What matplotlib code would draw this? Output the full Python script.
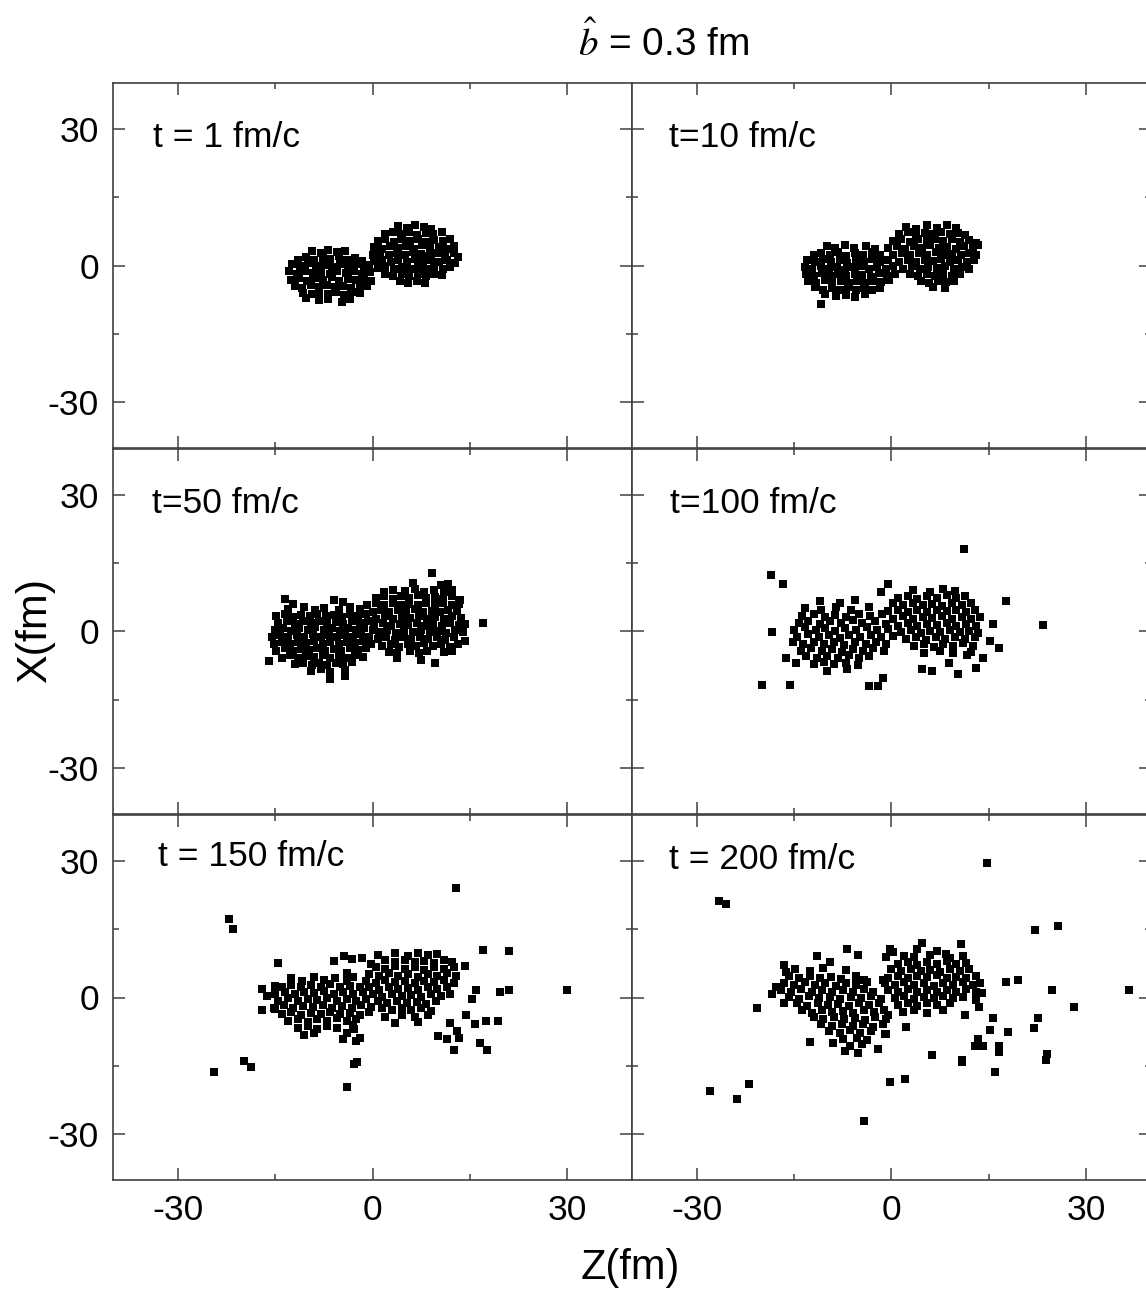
import numpy as np
import matplotlib
matplotlib.use("Agg")
import matplotlib.pyplot as plt
from matplotlib.ticker import MultipleLocator

plt.rcParams['font.family'] = ['Liberation Sans', 'DejaVu Sans']
plt.rcParams['mathtext.fontset'] = 'stix'
plt.rcParams['axes.unicode_minus'] = False

# (Z, X) positions of the nucleons in fm
pts_t1 = [
    (-9.3,3.2),(-8.0,2.7),(-6.8,3.4),(-5.5,2.9),(-4.2,3.1),
    (-11.5,1.3),(-10.3,1.8),(-9.0,1.1),(-7.7,1.7),(-6.5,1.4),(-5.2,2.0),(-4.0,1.2),(-2.7,1.6),(-1.6,1.0),
    (-12.4,0.3),(-11.2,-0.2),(-10.0,0.5),(-8.7,-0.1),(-7.5,0.2),(-6.2,-0.4),(-5.0,0.4),(-3.8,-0.2),(-2.5,0.3),(-1.3,-0.3),(-0.5,0.2),
    (-12.8,-1.3),(-11.6,-1.8),(-10.4,-1.2),(-9.1,-1.7),(-7.9,-1.4),(-6.6,-1.9),(-5.4,-1.1),(-4.1,-1.6),(-2.9,-1.3),(-1.6,-1.9),(-0.4,-1.5),
    (-12.6,-3.1),(-11.3,-2.7),(-10.1,-3.3),(-8.8,-2.8),(-7.6,-3.2),(-6.3,-2.6),(-5.1,-3.4),(-3.8,-2.9),(-2.6,-3.1),(-1.3,-2.7),(-0.3,-3.3),
    (-12.0,-4.4),(-10.8,-4.9),(-9.5,-4.3),(-8.3,-4.7),(-7.0,-4.2),(-5.8,-4.8),(-4.5,-4.4),(-3.3,-4.9),(-2.0,-4.3),(-0.9,-4.6),
    (-10.7,-6.0),(-9.4,-6.3),(-8.2,-5.8),(-6.9,-6.2),(-5.7,-5.9),(-4.4,-6.4),(-3.1,-5.8),(-2.0,-6.1),
    (-10.3,-7.1),(-8.3,-7.6),(-6.8,-7.3),(-4.7,-8.0),(-3.5,-7.4),
    (4.0,8.7),(5.3,8.3),(6.6,8.9),(7.9,8.4),(9.0,8.1),
    (1.9,6.8),(3.1,7.3),(4.4,6.9),(5.7,7.4),(6.9,6.7),(8.2,7.2),(9.4,6.9),(10.7,7.3),
    (0.8,5.3),(2.0,5.8),(3.3,5.2),(4.5,5.7),(5.8,5.4),(7.0,5.9),(8.3,5.1),(9.5,5.6),(10.8,5.3),(11.9,5.8),
    (0.2,4.1),(1.4,3.7),(2.7,4.3),(3.9,3.8),(5.2,4.2),(6.4,3.6),(7.7,4.4),(8.9,3.9),(10.2,4.1),(11.4,3.7),(12.6,4.2),
    (0.0,2.4),(1.2,2.8),(2.5,2.2),(3.7,2.7),(5.0,2.3),(6.2,2.9),(7.5,2.5),(8.7,2.1),(10.0,2.7),(11.2,2.3),(12.5,2.8),(13.2,1.9),
    (0.3,0.9),(1.5,1.3),(2.8,0.7),(4.0,1.2),(5.3,0.8),(6.5,1.4),(7.8,0.9),(9.0,1.3),(10.3,0.7),(11.5,1.2),(12.7,0.6),
    (0.8,-0.6),(2.0,-0.2),(3.3,-0.8),(4.5,-0.3),(5.8,-0.7),(7.0,-0.2),(8.3,-0.8),(9.5,-0.4),(10.8,-0.7),(11.9,-0.3),
    (2.0,-1.9),(3.2,-2.3),(4.5,-1.8),(5.7,-2.2),(7.0,-1.9),(8.2,-2.4),(9.5,-1.8),(10.7,-2.1),
    (4.2,-3.4),(5.5,-3.9),(6.8,-3.5),(8.1,-3.8),
]

pts_t10 = [
    (-10.0,4.3),(-8.7,3.8),(-7.2,4.6),(-5.8,3.9),(-4.0,4.2),(-2.6,3.7),
    (-12.0,2.2),(-10.8,2.8),(-9.5,2.3),(-8.2,2.9),(-7.0,2.1),(-5.7,2.7),(-4.4,2.4),(-3.0,2.9),(-1.8,2.2),
    (-13.0,1.2),(-11.8,0.7),(-10.5,1.4),(-9.3,0.8),(-8.0,1.3),(-6.8,0.6),(-5.5,1.2),(-4.3,0.8),(-3.0,1.4),(-1.8,0.7),(-0.6,1.1),
    (-13.4,-0.3),(-12.2,-0.8),(-10.9,-0.2),(-9.7,-0.7),(-8.4,-0.3),(-7.2,-0.9),(-5.9,-0.4),(-4.7,-0.1),(-3.4,-0.8),(-2.2,-0.3),(-0.9,-0.7),(0.2,-0.2),
    (-13.2,-1.8),(-12.0,-2.3),(-10.7,-1.7),(-9.5,-2.2),(-8.2,-1.9),(-7.0,-2.4),(-5.7,-1.8),(-4.5,-2.1),(-3.2,-2.5),(-2.0,-1.7),(-0.7,-2.2),(0.5,-1.9),
    (-12.8,-3.3),(-11.6,-3.8),(-10.3,-3.2),(-9.1,-3.7),(-7.8,-3.4),(-6.6,-3.9),(-5.3,-3.3),(-4.1,-3.8),(-2.8,-3.4),(-1.6,-3.7),(-0.4,-3.2),
    (-11.8,-4.8),(-10.5,-5.3),(-9.2,-4.9),(-8.0,-5.4),(-6.7,-4.8),(-5.5,-5.3),(-4.2,-5.0),(-3.0,-5.4),(-1.8,-4.9),
    (-10.2,-6.3),(-8.6,-6.7),(-7.0,-6.4),(-5.6,-6.8),(-4.1,-6.2),
    (-10.8,-8.4),
    (2.3,8.5),(3.8,8.1),(5.4,8.8),(7.0,8.3),(8.6,8.9),(10.0,8.2),
    (1.2,6.8),(2.5,7.3),(3.8,6.7),(5.1,7.2),(6.4,6.9),(7.7,7.4),(9.0,6.8),(10.3,7.2),(11.4,6.7),
    (0.2,5.3),(1.5,5.8),(2.8,5.2),(4.1,5.7),(5.4,5.4),(6.7,5.9),(8.0,5.3),(9.3,5.7),(10.6,5.2),(11.9,5.6),(13.0,5.0),
    (-0.5,3.8),(0.8,4.3),(2.1,3.7),(3.4,4.2),(4.7,3.9),(6.0,4.4),(7.3,3.8),(8.6,4.1),(9.9,3.7),(11.2,4.3),(12.5,3.9),(13.4,4.6),
    (0.3,2.3),(1.6,2.8),(2.9,2.2),(4.2,2.7),(5.5,2.4),(6.8,2.9),(8.1,2.3),(9.4,2.6),(10.7,2.2),(12.0,2.8),(13.0,2.4),
    (1.2,0.8),(2.5,1.3),(3.8,0.7),(5.1,1.2),(6.4,0.9),(7.7,1.4),(9.0,0.8),(10.3,1.2),(11.6,0.7),(12.7,1.1),
    (1.8,-0.7),(3.1,-0.2),(4.4,-0.8),(5.7,-0.3),(7.0,-0.6),(8.3,-0.2),(9.6,-0.8),(10.9,-0.4),(12.0,-0.7),
    (2.8,-1.9),(4.1,-2.3),(5.4,-1.8),(6.7,-2.2),(8.0,-1.9),(9.3,-2.4),(10.6,-1.8),
    (4.5,-3.3),(5.8,-3.8),(7.1,-3.4),(8.4,-3.7),(9.7,-3.3),
    (6.4,-4.7),(8.3,-4.9),
]

pts_t50 = [
    (-13.5,7.2),(-12.3,6.1),(-6.0,6.8),(-4.6,6.5),
    (-13.0,4.9),(-10.5,5.3),(-8.9,4.7),(-7.4,5.2),(-5.2,4.8),(-3.5,5.4),(-2.0,4.9),
    (-14.8,3.3),(-13.5,3.8),(-12.2,3.2),(-11.0,3.7),(-9.7,3.4),(-8.5,3.9),(-7.2,3.3),(-6.0,3.6),(-4.7,3.2),(-3.5,3.8),(-2.2,3.4),(-1.0,3.9),
    (-14.5,1.8),(-13.2,2.3),(-12.0,1.7),(-10.7,2.2),(-9.5,1.9),(-8.2,2.4),(-7.0,1.8),(-5.7,2.1),(-4.5,1.7),(-3.2,2.3),(-2.0,1.9),(-0.7,2.4),
    (-15.0,0.4),(-13.8,0.8),(-12.5,0.2),(-11.3,0.7),(-10.0,0.3),(-8.8,0.9),(-7.5,0.4),(-6.3,0.7),(-5.0,0.2),(-3.8,0.8),(-2.5,0.3),(-1.3,0.7),(0.0,0.4),
    (-15.5,-1.2),(-14.2,-0.7),(-13.0,-1.3),(-11.7,-0.8),(-10.5,-1.1),(-9.2,-0.6),(-8.0,-1.2),(-6.7,-0.8),(-5.5,-1.3),(-4.2,-0.7),(-3.0,-1.1),(-1.7,-0.6),(-0.5,-1.2),
    (-15.2,-2.7),(-14.0,-2.2),(-12.7,-2.8),(-11.5,-2.3),(-10.2,-2.6),(-9.0,-2.1),(-7.7,-2.7),(-6.5,-2.3),(-5.2,-2.8),(-4.0,-2.2),(-2.7,-2.6),(-1.5,-2.1),(-0.2,-2.7),
    (-14.8,-4.2),(-13.5,-3.7),(-12.3,-4.3),(-11.0,-3.8),(-9.8,-4.1),(-8.5,-3.6),(-7.3,-4.2),(-6.0,-3.8),(-4.8,-4.3),(-3.5,-3.7),(-2.3,-4.1),(-1.0,-3.6),
    (-14.0,-5.7),(-12.7,-5.2),(-11.5,-5.8),(-10.2,-5.3),(-9.0,-5.6),(-7.7,-5.1),(-6.5,-5.7),(-5.2,-5.3),(-4.0,-5.8),(-2.7,-5.2),(-1.5,-5.6),
    (-16.0,-6.5),(-12.0,-7.2),(-10.7,-6.8),(-9.4,-7.3),(-8.2,-6.9),(-7.0,-7.4),(-5.7,-6.8),(-4.5,-7.1),(-3.2,-6.7),
    (-9.5,-8.6),(-8.0,-8.2),(-6.5,-8.9),(-4.2,-8.4),
    (-6.5,-10.4),(-4.2,-9.7),
    (9.2,12.9),
    (6.3,10.6),(10.5,10.2),(11.7,10.4),
    (1.7,8.7),(3.2,9.2),(5.0,8.8),(6.6,9.3),(8.0,8.7),(9.5,9.1),(11.0,8.6),(12.2,9.0),
    (0.5,7.3),(1.8,7.8),(3.1,7.2),(4.4,7.7),(5.7,7.4),(7.0,7.9),(8.3,7.3),(9.6,7.6),(10.9,7.2),(12.2,7.7),(13.5,6.8),
    (-0.8,5.7),(0.5,6.2),(1.8,5.8),(3.1,6.3),(4.4,5.7),(5.7,6.1),(7.0,5.8),(8.3,6.3),(9.6,5.7),(10.9,6.2),(12.2,5.8),(13.3,6.1),
    (0.0,4.3),(1.3,4.8),(2.6,4.2),(3.9,4.7),(5.2,4.4),(6.5,4.9),(7.8,4.3),(9.1,4.6),(10.4,4.2),(11.7,4.8),(13.0,4.4),
    (0.6,2.8),(1.9,3.3),(3.2,2.7),(4.5,3.2),(5.8,2.9),(7.1,3.4),(8.4,2.8),(9.7,3.1),(11.0,2.7),(12.3,3.3),(13.6,2.9),
    (0.3,1.3),(1.6,1.8),(2.9,1.2),(4.2,1.7),(5.5,1.4),(6.8,1.9),(8.1,1.3),(9.4,1.6),(10.7,1.2),(12.0,1.8),(13.3,1.4),(14.3,1.7),
    (1.0,-0.2),(2.3,0.3),(3.6,-0.3),(4.9,0.2),(6.2,-0.1),(7.5,0.4),(8.8,-0.2),(10.1,0.1),(11.4,-0.3),(12.7,0.3),(13.9,-0.1),
    (0.8,-1.7),(2.1,-1.2),(3.4,-1.8),(4.7,-1.3),(6.0,-1.6),(7.3,-1.1),(8.6,-1.7),(9.9,-1.3),(11.2,-1.8),(12.5,-1.2),(14.3,-2.0),
    (1.5,-3.2),(2.8,-2.7),(4.1,-3.3),(5.4,-2.8),(6.7,-3.1),(8.0,-2.6),(9.3,-3.2),(10.6,-2.8),(11.9,-3.3),(13.2,-2.7),
    (2.5,-4.4),(3.8,-4.8),(5.8,-4.3),(7.1,-4.7),(8.4,-4.2),(11.0,-4.6),(12.3,-4.3),
    (3.8,-5.7),(7.5,-6.2),(9.7,-6.8),
    (17.1,1.8),
]

pts_t100 = [
    (-5.7,7.0),(-11.0,6.6),(-8.0,6.2),
    (-13.3,5.2),(-10.8,4.7),(-8.5,5.4),(-6.2,4.8),(-3.5,5.3),
    (-13.8,3.3),(-12.0,3.9),(-10.2,3.2),(-8.7,3.7),(-7.0,3.1),(-5.0,3.8),(-3.3,3.4),(-1.5,3.9),
    (-14.2,1.8),(-12.8,2.4),(-11.0,1.7),(-9.5,2.3),(-7.8,1.9),(-6.0,2.5),(-4.5,1.8),(-2.5,2.2),(-0.8,1.7),
    (-15.0,0.3),(-13.3,0.9),(-11.7,0.4),(-10.2,0.8),(-8.7,0.2),(-7.2,0.7),(-5.5,0.3),(-3.8,0.9),(-2.2,0.4),(-0.5,0.6),
    (-14.5,-1.2),(-12.8,-0.6),(-11.2,-1.3),(-9.6,-0.8),(-8.0,-1.4),(-6.5,-0.7),(-4.8,-1.2),(-3.2,-0.8),(-1.6,-1.3),(0.2,-0.9),
    (-15.2,-2.3),(-13.6,-2.8),(-12.0,-2.2),(-10.4,-2.7),(-8.9,-2.4),(-7.3,-2.9),(-5.6,-2.3),(-4.0,-2.7),(-2.4,-2.2),(-0.8,-2.8),
    (-14.0,-4.2),(-12.4,-3.7),(-10.7,-4.3),(-9.2,-3.8),(-7.6,-4.4),(-6.0,-3.9),(-4.4,-4.2),(-2.8,-3.7),(-1.2,-4.3),
    (-13.2,-5.4),(-11.5,-5.9),(-9.9,-5.3),(-8.3,-5.8),(-6.6,-5.2),(-5.0,-5.7),(-3.4,-5.3),
    (-12.0,-7.1),(-10.4,-6.6),(-8.8,-7.2),(-7.0,-6.8),(-5.2,-7.3),
    (-10.0,-8.6),(-6.8,-8.3),
    (3.3,9.2),(6.0,8.7),(8.0,9.4),(9.8,8.9),
    (1.0,7.3),(2.5,7.8),(4.0,7.2),(5.5,7.7),(7.0,7.4),(8.5,7.9),(10.0,7.3),(11.3,7.7),
    (0.2,6.2),(1.8,5.7),(3.3,6.3),(4.8,5.8),(6.3,6.1),(7.8,5.6),(9.3,6.2),(10.8,5.8),(12.2,6.3),
    (-0.5,4.4),(1.0,4.8),(2.5,4.3),(4.0,4.7),(5.5,4.2),(7.0,4.8),(8.5,4.4),(10.0,4.7),(11.5,4.3),(12.9,4.8),
    (0.3,2.8),(1.8,3.3),(3.3,2.7),(4.8,3.2),(6.3,2.9),(7.8,3.4),(9.3,2.8),(10.8,3.1),(12.3,2.7),(13.6,3.2),
    (1.0,1.3),(2.5,1.8),(4.0,1.2),(5.5,1.7),(7.0,1.4),(8.5,1.9),(10.0,1.3),(11.5,1.6),(13.0,1.2),
    (1.5,-0.2),(3.0,0.3),(4.5,-0.3),(6.0,0.2),(7.5,-0.1),(9.0,0.4),(10.5,-0.2),(12.0,0.1),(13.3,-0.3),
    (2.3,-1.7),(3.8,-1.2),(5.3,-1.8),(6.8,-1.3),(8.3,-1.6),(9.8,-1.1),(11.3,-1.7),(12.8,-1.3),
    (3.5,-3.2),(5.0,-2.7),(6.5,-3.3),(8.0,-2.8),(9.5,-3.1),(11.0,-2.6),(12.5,-3.2),
    (5.0,-4.7),(7.5,-4.3),(9.5,-4.8),(12.3,-4.4),
    (-18.5,12.4),(-16.7,10.5),(11.1,18.1),(23.4,1.5),(-20.0,-11.7),(-15.6,-11.7),(-18.4,-0.1),
    (17.6,6.7),(16.6,-3.6),(15.6,1.7),(-16.2,-5.7),(-14.7,-6.8),(-3.4,-11.9),(-2.1,-11.9),
    (-1.3,-10.1),(-0.6,10.5),(-1.6,8.7),(4.7,-8.2),(6.3,-8.6),(10.2,-9.3),(13.1,-8.0),
    (14.1,-5.7),(11.7,-5.1),(8.9,-6.9),(15.2,-2.0),
]

pts_t150 = [
    (-12.5,4.2),(-10.8,3.7),(-9.0,4.4),(-7.5,3.8),(-5.8,4.3),(-4.0,3.6),
    (-14.0,2.3),(-12.5,2.8),(-11.0,2.2),(-9.5,2.7),(-8.0,2.4),(-6.5,2.9),(-5.0,2.3),(-3.5,2.6),(-2.0,2.2),
    (-15.0,0.8),(-13.5,1.3),(-12.0,0.7),(-10.5,1.2),(-9.0,0.9),(-7.5,1.4),(-6.0,0.8),(-4.5,1.1),(-3.0,0.7),(-1.5,1.2),
    (-14.5,-0.7),(-13.0,-0.2),(-11.5,-0.8),(-10.0,-0.3),(-8.5,-0.6),(-7.0,-0.1),(-5.5,-0.7),(-4.0,-0.3),(-2.5,-0.8),(-1.0,-0.4),
    (-15.2,-2.2),(-13.7,-1.7),(-12.2,-2.3),(-10.7,-1.8),(-9.2,-2.1),(-7.7,-1.6),(-6.2,-2.2),(-4.7,-1.8),(-3.2,-2.3),(-1.7,-1.7),(-0.2,-2.1),
    (-14.0,-3.7),(-12.5,-3.2),(-11.0,-3.8),(-9.5,-3.3),(-8.0,-3.6),(-6.5,-3.1),(-5.0,-3.7),(-3.5,-3.3),(-2.0,-3.8),(-0.5,-3.2),
    (-13.0,-5.2),(-11.5,-4.7),(-10.0,-5.3),(-8.5,-4.8),(-7.0,-5.1),(-5.5,-4.6),(-4.0,-5.2),(-2.5,-4.8),
    (-11.5,-6.7),(-10.0,-6.2),(-8.5,-6.8),(-7.0,-6.3),(-5.5,-6.6),(-3.0,-6.1),
    (-10.5,-8.2),(-9.0,-7.7),(-3.9,-7.7),(-2.9,-7.0),
    (-4.6,-9.2),(-2.6,-9.6),(-2.0,-8.8),
    (-6.0,7.9),(-4.4,9.1),(-3.2,8.4),(-1.6,8.6),(0.9,9.4),(-0.3,7.4),(-4.0,5.3),(-3.0,4.5),
    (3.5,9.7),(5.5,9.2),(7.0,9.8),(8.5,9.3),(10.0,9.6),
    (2.0,8.2),(3.5,7.7),(5.0,8.3),(6.5,7.8),(8.0,8.1),(9.5,7.6),(11.0,8.2),(12.3,7.8),
    (0.5,6.7),(2.0,6.2),(3.5,6.8),(5.0,6.3),(6.5,6.6),(8.0,6.1),(9.5,6.7),(11.0,6.3),(12.5,6.6),
    (-0.5,5.2),(1.0,4.7),(2.5,5.3),(4.0,4.8),(5.5,5.1),(7.0,4.6),(8.5,5.2),(10.0,4.8),(11.5,5.3),(12.8,4.7),
    (-1.0,3.7),(0.5,3.2),(2.0,3.8),(3.5,3.3),(5.0,3.6),(6.5,3.1),(8.0,3.7),(9.5,3.3),(11.0,3.8),(12.5,3.2),
    (-0.5,2.2),(1.0,1.7),(2.5,2.3),(4.0,1.8),(5.5,2.1),(7.0,1.6),(8.5,2.2),(10.0,1.8),(11.5,2.3),
    (0.0,0.7),(1.5,0.2),(3.0,0.8),(4.5,0.3),(6.0,0.6),(7.5,0.1),(9.0,0.7),(10.5,0.3),(12.0,0.8),
    (0.8,-0.8),(2.3,-1.3),(3.8,-0.7),(5.3,-1.2),(6.8,-0.9),(8.3,-1.4),(9.8,-0.8),
    (1.5,-2.3),(3.0,-2.8),(4.5,-2.2),(6.0,-2.7),(7.5,-2.4),(9.0,-2.9),
    (2.0,-4.2),(4.5,-3.8),(6.5,-4.3),(8.5,-3.9),
    (3.5,-5.6),(7.0,-5.3),
    (12.9,24.0),(-22.1,17.3),(-21.5,15.0),(17.0,10.5),(21.1,10.1),(30.0,1.6),(-24.4,-16.4),
    (-19.8,-14.0),(-18.8,-15.3),(-4.0,-19.7),(-2.8,-14.5),(-2.4,-14.2),(-14.5,7.6),(-17.1,-2.7),
    (-17.0,1.8),(-15.1,-2.6),(-15.1,2.6),(-16.2,0.4),(14.3,6.9),(16.0,1.7),(15.3,-0.4),
    (19.7,1.3),(21.0,1.7),(14.4,-3.9),(15.8,-5.7),(17.5,-5.2),(19.3,-5.2),(11.9,-5.5),
    (11.5,-9.1),(13.1,-7.4),(13.4,-8.8),(10.1,-8.5),(12.5,-11.4),(16.6,-10.0),(17.7,-11.4),
]

pts_t200 = [
    (-14.8,6.2),(-12.5,5.8),(-10.5,6.4),(-7.0,6.0),
    (-15.8,4.7),(-14.2,4.2),(-12.6,4.8),(-11.0,4.3),(-9.4,4.6),(-7.8,4.1),(-5.5,4.7),
    (-16.5,3.2),(-15.0,2.7),(-13.4,3.3),(-11.8,2.8),(-10.2,3.1),(-8.6,2.6),(-7.0,3.2),(-5.4,2.8),(-3.8,3.3),
    (-17.0,1.7),(-15.5,1.2),(-13.9,1.8),(-12.3,1.3),(-10.7,1.6),(-9.1,1.1),(-7.5,1.7),(-5.9,1.3),(-4.3,1.8),(-2.8,1.2),
    (-15.8,0.2),(-14.3,-0.3),(-12.7,0.3),(-11.1,-0.2),(-9.5,0.1),(-7.9,-0.4),(-6.3,0.2),(-4.7,-0.2),(-3.1,0.3),(-1.6,-0.3),
    (-14.5,-1.3),(-13.0,-1.8),(-11.4,-1.2),(-9.8,-1.7),(-8.2,-1.4),(-6.6,-1.9),(-5.0,-1.3),(-3.4,-1.7),(-1.9,-1.2),
    (-13.8,-2.8),(-12.3,-3.3),(-10.7,-2.7),(-9.1,-3.2),(-7.5,-2.9),(-5.9,-3.4),(-4.3,-2.8),(-2.7,-3.2),(-1.2,-2.7),
    (-12.0,-4.3),(-10.5,-4.8),(-8.9,-4.2),(-7.3,-4.7),(-5.7,-4.4),(-4.1,-4.9),(-2.5,-4.3),(-0.8,-4.7),
    (-10.8,-5.8),(-9.2,-6.3),(-7.6,-5.7),(-6.0,-6.2),(-4.4,-5.9),(-2.8,-6.4),(-1.3,-5.8),
    (-9.7,-7.3),(-8.0,-7.8),(-6.4,-7.2),(-4.8,-7.7),(-3.2,-7.4),(-1.0,-7.9),
    (-9.0,-10.0),(-7.5,-9.2),(-5.3,-8.8),(-3.8,-9.3),
    (-6.4,-10.6),(-4.5,-10.3),
    (-7.2,-11.8),(-5.2,-12.2),
    (4.0,10.7),(7.0,10.3),
    (2.0,9.2),(3.5,8.8),(6.0,9.3),(9.0,8.7),(11.0,9.1),
    (1.0,7.3),(2.5,7.8),(4.0,7.2),(5.5,7.7),(7.0,7.4),(8.5,7.9),(10.0,7.3),(11.5,7.6),
    (0.0,6.2),(1.5,5.7),(3.0,6.3),(4.5,5.8),(6.0,6.1),(7.5,5.6),(9.0,6.2),(10.5,5.8),(12.0,6.3),
    (-0.5,4.3),(1.0,4.8),(2.5,4.2),(4.0,4.7),(5.5,4.4),(7.0,4.9),(8.5,4.3),(10.0,4.6),(11.5,4.2),(13.0,4.8),
    (-1.0,3.2),(0.5,2.7),(2.0,3.3),(3.5,2.8),(5.0,3.1),(6.5,2.6),(8.0,3.2),(9.5,2.8),(11.0,3.3),(12.5,2.7),(13.7,3.1),
    (-0.5,1.7),(1.0,1.2),(2.5,1.8),(4.0,1.3),(5.5,1.6),(7.0,1.1),(8.5,1.7),(10.0,1.3),(11.5,1.8),(13.0,1.2),
    (0.5,-0.2),(2.0,0.3),(3.5,-0.3),(5.0,0.2),(6.5,-0.1),(8.0,0.4),(9.5,-0.2),(11.0,0.2),
    (1.0,-1.7),(2.5,-1.2),(4.0,-1.8),(5.5,-1.3),(7.0,-1.6),(9.0,-1.2),
    (1.8,-3.2),(3.5,-2.7),(5.5,-3.3),(8.0,-2.8),
    (14.7,29.4),(-26.6,21.2),(-25.5,20.4),(22.1,14.7),(25.7,15.6),(36.6,1.6),(24.7,1.6),
    (28.2,-2.1),(17.6,3.5),(19.5,3.8),(22.6,-4.6),(21.9,-6.6),(24.0,-12.3),(23.8,-13.6),
    (15.7,-4.6),(15.2,-7.2),(18.0,-7.5),(13.4,-9.2),(12.9,-10.7),(14.1,-10.7),(16.5,-10.7),
    (16.6,-12.0),(16.0,-16.4),(10.8,-14.2),(10.9,-13.8),(6.2,-12.7),(11.3,-3.9),(2.1,-17.8),
    (-0.2,-18.6),(-4.3,-27.1),(-28.0,-20.5),(-23.8,-22.3),(-22.0,-19.0),(-20.7,-2.4),
    (-2.1,-11.3),(-0.8,-8.1),(2.2,-6.4),(-0.6,-3.8),(-1.3,3.9),(-4.2,3.9),(-5.5,3.9),
    (4.7,12.0),(10.7,11.7),(8.4,9.6),(-6.9,10.7),(-5.2,9.4),(-11.5,9.0),(-9.5,7.7),
    (-0.3,10.7),(-0.8,8.8),(0.3,10.0),(-16.5,7.2),(-16.2,5.5),(-18.4,0.7),(-17.8,2.4),
    (-16.5,-1.1),(-12.5,-9.7),(13.0,-0.5),(14.0,1.0),(13.5,-2.0),
]

labels = ['t = 1 fm/c', 't=10 fm/c', 't=50 fm/c', 't=100 fm/c', 't = 150 fm/c', 't = 200 fm/c']
panels = [pts_t1, pts_t10, pts_t50, pts_t100, pts_t150, pts_t200]

fig = plt.figure(figsize=(11.46, 12.93), dpi=100)

W, H = 1146, 1293
col_left = [113, 632]
row_top = [83, 449, 815]
ax_w, ax_h = 519, 365
label_y = [0.852, 0.852, 0.852, 0.852, 0.885, 0.877]
label_x = [0.077, 0.071, 0.075, 0.073, 0.086, 0.071]

for i, (pts, lab) in enumerate(zip(panels, labels)):
    r, c = divmod(i, 2)
    ax = fig.add_axes([col_left[c] / W, 1 - (row_top[r] + ax_h) / H, ax_w / W, ax_h / H])
    z, x = np.array(pts).T
    ax.plot(z, x, 's', color='black', ms=5.8, mew=0)
    ax.set_xlim(-40, 40)
    ax.set_ylim(-40, 40)
    ax.xaxis.set_major_locator(MultipleLocator(30))
    ax.xaxis.set_minor_locator(MultipleLocator(15))
    ax.yaxis.set_major_locator(MultipleLocator(30))
    ax.yaxis.set_minor_locator(MultipleLocator(15))
    ax.tick_params(which='both', direction='in', top=True, right=True, color='#404040', width=1.1)
    ax.tick_params(which='major', length=8.5)
    ax.tick_params(which='minor', length=4.3)
    ax.tick_params(labelsize=25.5, pad=10)
    ax.tick_params(labelleft=(c == 0), labelbottom=(r == 2))
    for sp in ax.spines.values():
        sp.set_color('#404040')
        sp.set_linewidth(1.2)
    ax.text(label_x[i], label_y[i], lab, transform=ax.transAxes, fontsize=25.5,
            ha='left', va='center')

fig.text(0.579, 0.967, r'$\hat{b}$ = 0.3 fm', fontsize=28, ha='center', va='center')
fig.text(0.55, 0.019, 'Z(fm)', fontsize=30, ha='center', va='center')
fig.text(0.031, 0.512, 'X(fm)', fontsize=31, ha='center', va='center', rotation=90)

fig.savefig('out.png', dpi=100)
